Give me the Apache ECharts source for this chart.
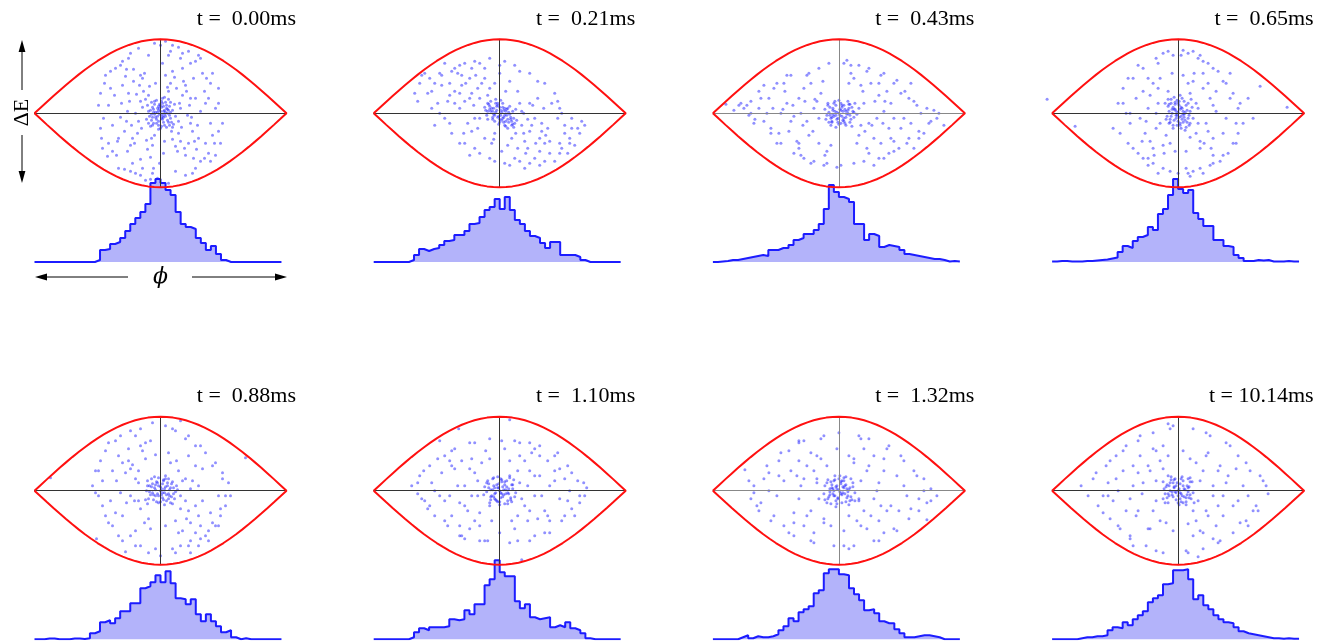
<!DOCTYPE html>
<html><head><meta charset="utf-8">
<script src="https://cdn.jsdelivr.net/npm/echarts@6/dist/echarts.min.js"></script>
<style>html,body{margin:0;padding:0;background:#fff}#c{width:1323px;height:642px}</style>
</head><body><div id="c"></div><script>
// ---------------- DATA ----------------
const titles = ['t =  0.00ms','t =  0.21ms','t =  0.43ms','t =  0.65ms','t =  0.88ms','t =  1.10ms','t =  1.32ms','t = 10.14ms'];

// separatrix (upper half), phase in scaled units, energy in scaled units
const sepPhi = [-126,-119.7,-113.4,-107.1,-100.8,-94.5,-88.2,-81.9,-75.6,-69.3,-63,-56.7,-50.4,-44.1,-37.8,-31.5,-25.2,-18.9,-12.6,-6.3,0,6.3,12.6,18.9,25.2,31.5,37.8,44.1,50.4,56.7,63,69.3,75.6,81.9,88.2,94.5,100.8,107.1,113.4,119.7,126];
const sepDE = [0,5.81,11.57,17.27,22.87,28.32,33.60,38.67,43.50,48.06,52.33,56.27,59.87,63.09,65.93,68.37,70.38,71.96,73.09,73.77,74.0,73.77,73.09,71.96,70.38,68.37,65.93,63.09,59.87,56.27,52.33,48.06,43.50,38.67,33.60,28.32,22.87,17.27,11.57,5.81,0];

// phase histograms, 50 bins across the bucket
const hist1 = [0,0,0,0,0,0,0,0,0,0,0,0,2,12,13,18,20,24,31,38,44,50,58,79,83,79,72,67,50,38,35,33,24,19,12,16,8,2,0,0,0,0,0,0,0,0,0,0,0,0];
const hist2 = [0,0,0,0,0,0,0,2,7,13,11,13,14,17,21,22,27,27,31,38,39,45,52,55,63,53,65,52,42,38,31,26,24,19,14,20,20,7,7,7,5,2,0,0,0,0,0,0,0,0];
const hist3 = [0,0.5,1,2,2,3,4,5,6,7,6,12,12,14,14,17,22,24,28,28,32,38,53,77,70,65,63,60,38,38,22,28,26,15,17,16,15,12,8,7,6,5,4,3,3,2,0.5,1,0.5,0];
const hist4 = [0.5,1,1,0.5,0.5,0.5,1,1,1.5,2,2.5,3.5,4.5,10,16,14,21,25,27,35,32,48,53,67,83,73,69,72,49,43,36,36,22,22,16,15,7,4,1,1,2,1.5,2,0.5,0.5,0.5,1,0.5,0.5,0.5];
const hist5 = [0,0,0.7,0.7,0,0,0,0.7,0.7,0.3,1,6,8,17,19,16,21,28,28,36,36,51,53,57,64,57,68,56,41,40,35,40,25,18,25,18,13,7,9,2,0,1,0,0,0,0,0,0,0,0];
const hist6 = [0,0,0,0,0,0,0,2,7,11,9,12,12,12,13,20,19,20,29,25,35,35,54,60,79,67,63,63,38,31,35,22,20,21,22,12,14,12,17,11,9,6,1,0,0,0,0,0,0,0];
const hist7 = [0,0,0,0,0,2,4,1,3,2,2,3,5,9,13,21,18,27,30,33,46,49,66,70,70,65,64,51,45,39,29,30,26,18,16,16,10,6,2,2,3,4,4,3,2,0,0,0,0,0];
const hist8 = [0,0,0,0,0,1,2,2,3,3,4,9,12,11,17,14,20,24,28,37,41,44,55,56,69,69,70,60,40,44,34,30,24,20,17,16,12,8,6,5,4,3,2,1,1,0.5,1,0.5,0.5,0];

// particle coordinates (phase, energy) read from each frame, flat x,y pairs
const pts1 = [0,2,3,-4,-5,1,6,5,-2,-8,9,-2,-8,6,2,10,-11,-3,12,3,4,-12,-4,13,7,-7,-7,-10,14,9,-13,8,1,-1,-1,5,5,1,-3,-3,10,11,-10,-13,13,-11,-14,-6,8,14,0,-15,-6,-1,3,7,11,-9,-9,11,2,-6,-12,2,6,-14,15,-3,-15,14,4,3,-2,-12,9,7,-7,4,1,12,
20,5,-22,-8,18,-20,-17,22,25,28,-28,-25,30,-10,-31,12,10,30,-8,-32,24,-35,-20,38,35,15,-36,-18,5,38,3,-40,-25,0,27,-2,16,25,-14,-27,38,-25,-38,28,22,18,-19,-15,12,-26,-11,27,33,35,-33,-38,28,-30,-27,32,17,-38,-16,40,40,2,-40,-4,8,22,-6,-22,21,-14,-24,19,32,-18,-30,-32,14,36,-13,-36,36,-36,-35,37,19,10,-18,6,26,22,-23,-20,11,-18,-12,18,
45,10,-48,-12,52,-22,-50,25,42,40,-44,-42,55,5,-57,-5,48,-40,-45,45,20,55,-18,-55,10,62,-8,-60,30,50,-28,-50,0,68,5,72,-3,-65,15,-58,-12,58,40,-48,-38,52,58,25,-60,20,62,-10,-62,8,35,-55,-30,60,25,-62,-22,65,50,30,-52,-30,45,-30,-43,-28,18,66,-15,-67,60,-30,-55,38,38,58,-36,-56,8,-70,-6,70,28,62,-25,-60,55,-42,-58,-35,48,15,-46,18,2,50,-1,-50,33,-45,-34,44,44,22,-42,-25,
1,6,-4,-6,7,0,-9,-1,3,-9,-1,9,10,-5,-6,9,5,-3,-3,1,12,-14,-12,-10,8,3,-8,-4,2,15,-2,3,
18,-8,-20,12,23,32,-26,-30,15,-33,-18,35,29,8,-29,-12,7,26,-9,-25,34,-28,-32,20,20,-28,-21,28,30,15,-34,-8,12,42,-10,-44,25,-42,-27,44,37,-12,-39,10,4,-28,-5,30,22,45,-20,-46,31,-4,-33,2,
50,-10,-52,8,46,35,-48,-38,40,55,-42,-55,22,60,-20,-62,12,68,-10,-66,54,-30,-56,30,58,10,-60,-15,44,-45,-40,48,32,-60,-30,-58,35,52,-32,55,50,-48,-50,42,58,-18,-59,-25,8,58,-7,-55,52,40,-53,-43,
1,-5,-2,7,4,-1,-5,-4,6,8,-7,1,2,-3,-1,-1,8,-9,-3,5,5,11,-9,-7,0,8,3,2,-4,-10,7,4,-6,12,10,1,-10,3,1,-13,9,-12,-8,-12,4,16,-2,-16];
const pts2 = [2,1,-3,3,5,-2,-6,-1,8,-6,0,6,-8,5,11,-4,4,-9,-2,-4,13,2,-11,9,7,4,-5,-8,15,-10,1,-2,-13,-2,10,7,-9,12,6,-13,3,10,-15,6,12,-12,-4,14,9,1,-1,-11,14,-5,-7,2,16,4,-12,-6,0,-6,5,5,
-20,15,22,-12,-28,20,30,-18,-18,30,25,-28,-35,12,35,-5,-25,-5,20,10,-10,25,12,-25,-38,28,40,-25,-30,35,28,-35,-5,30,8,-32,18,22,-22,-15,-40,5,42,-10,-15,-25,16,-20,33,8,-32,-10,-24,38,26,-40,-45,22,45,-30,0,40,2,-38,38,15,-8,-30,-36,-20,24,0,
-60,40,-75,40,-80,30,-55,50,-68,22,-50,30,-70,35,-45,45,-35,50,-20,50,-10,55,5,52,15,48,30,40,45,30,55,20,60,5,-85,20,-62,10,-55,-5,-48,-20,-40,-30,-25,-35,-10,-45,5,-50,20,-48,35,-45,50,-40,60,-30,70,-25,78,-15,82,-8,75,-32,65,-12,55,-48,40,-52,68,-40,48,-15,58,12,-65,-12,-30,-42,-58,28,-42,40,-28,45,10,-52,25,-55,72,-5,80,-20,-78,38,-52,12,62,-35,44,5,
4,3,-2,8,6,-8,-7,-4,10,-1,-10,4,3,-5,-4,10,12,-8,-12,2,1,13,8,-15,
-22,25,24,-20,-30,15,32,-12,-15,35,18,-35,-40,20,42,-18,-34,30,36,-30,-12,18,14,-14,-26,8,28,-6,-20,-5,22,2,-5,-20,6,22,-45,10,46,-22,-50,18,50,-28,10,32,-6,-26,30,10,-28,-18,
-65,30,-58,38,-72,20,-48,42,-40,48,-25,52,0,48,20,42,38,32,52,10,65,-20,72,-15,60,-40,45,-48,30,-50,15,-45,-5,-48,-20,-40,-35,-30,-50,-10,-60,0,70,-30,85,-12,58,-5,-68,5,-82,12,62,0,-15,45,40,-38,-38,38,
1,3,-1,-3,4,-4,-4,1,7,-2,-6,5,2,-7,-3,7,9,-9,-9,2,6,2,-2,10,11,-6,-7,-6,3,6,-5,-2,13,-11,-10,7,0,-9,8,5,-12,10,5,-12,-14,3,17,-7];
const pts3 = [0,0,3,-3,-4,2,6,4,-2,-6,8,-1,-7,-4,5,8,10,5,-9,6,2,-10,12,-6,-5,10,14,2,-12,-2,7,-12,-3,-14,9,12,-10,-9,15,-4,1,4,-6,-1,4,-7,11,9,-14,4,16,10,-8,-12,13,-13,0,13,18,-1,
25,10,-25,5,30,-10,-32,-8,20,-22,-18,20,40,18,-40,15,35,-25,-30,-22,22,28,-20,-30,45,2,-45,-3,28,-35,-28,30,10,30,-8,-32,38,-5,-38,0,50,-15,-52,10,15,35,-12,-38,32,30,-35,25,48,22,-50,-18,26,-18,-22,12,42,-30,-42,-28,
-113,9,-100,8,-88,12,-80,5,-70,15,-90,-2,-75,-8,-65,25,-60,-20,-55,30,-58,0,-68,-15,-48,38,-45,-40,-35,-45,-30,40,-20,45,-28,-50,-15,-52,-2,-54,5,50,8,53,20,48,30,45,45,40,58,33,62,20,70,15,78,8,88,5,95,3,105,-12,90,-10,80,-18,70,-25,65,-5,60,-35,50,-40,40,-45,25,-48,15,-50,-80,22,-95,5,72,30,55,-28,-62,-30,-40,-35,85,-20,100,0,-105,3,75,-35,35,-52,-10,50,52,10,-72,0,-85,-10,
2,3,-3,-2,5,-5,-6,5,9,0,-9,-2,3,8,-1,-9,11,-9,-11,8,7,2,-7,-8,
20,5,-20,-5,33,-12,-34,12,24,22,-26,-18,44,-10,-46,8,36,12,-36,-12,18,-30,-16,32,55,-5,-56,4,30,-40,-32,38,40,30,-40,-30,12,40,-14,-42,52,-25,-54,22,22,-12,-24,14,46,12,-48,-8,
-78,15,-92,8,-84,-6,-68,-20,-62,30,-52,38,-38,-42,-25,-48,-12,-50,2,-52,12,48,28,42,42,38,55,30,66,22,75,12,82,0,92,-8,80,-25,68,-30,55,-38,45,-45,-75,28,-88,0,-98,10,62,-15,72,-10,-66,5,98,-5,-58,-30,
1,-2,-2,1,4,2,-5,-3,7,-4,-6,3,3,6,-1,-5,9,3,-8,-5,5,-8,-3,8,11,-2,-10,1,2,10,6,-10,-7,-9,13,6,-13,-6,0,-11,15,1,-4,12,10,9,-11,10];
const pts4 = [0,1,3,-3,-4,4,5,2,-2,-5,7,-7,-6,0,1,8,9,3,-8,-6,2,-10,-3,11,11,-2,-10,7,6,12,-5,-12,12,-10,4,5,-1,-2,8,-14,-11,-3,14,6,-7,14,0,-8,10,10,-13,10,3,-15,15,-5,-9,-10,6,-4,-4,16,13,14,
20,5,-20,10,18,-20,-22,-15,25,25,-25,30,28,-10,-30,5,10,30,-8,-30,22,-35,-18,35,32,15,-33,-20,5,38,-3,-38,16,40,-14,-40,35,-25,-35,22,26,-30,-28,-28,38,2,-38,-5,12,-24,-10,22,30,30,-25,-35,
-131,14,-103,-13,82,27,109,6,-60,10,-65,-15,-55,25,-50,-30,-45,35,-40,-40,-35,45,-30,-45,-20,50,-15,-55,-5,58,0,-60,5,63,15,-58,20,55,30,50,40,42,48,30,55,20,60,5,65,-10,70,15,75,-5,58,-30,50,-40,42,-48,32,-52,25,-60,8,-55,-10,62,-25,-50,10,60,22,58,35,-42,-48,-10,-42,15,45,-20,52,40,60,-20,-52,0,-20,-60,12,-63,
2,4,-2,-2,4,-6,-5,6,7,1,-7,-3,1,12,-1,-12,9,-9,-9,9,5,-1,-3,4,
18,10,-18,-10,22,-28,-20,25,30,-18,-28,18,15,32,-15,-32,35,8,-32,-8,8,-38,-6,40,25,40,-24,-42,33,-35,-30,35,20,-10,-22,0,12,20,-12,-22,38,22,-36,-28,
-55,10,-58,-20,-50,35,-45,-35,-40,48,-30,-52,-22,55,-8,-58,3,58,10,-60,25,52,35,45,45,32,52,15,58,-10,55,-30,45,-42,35,-50,22,-55,-15,60,15,62,-35,-45,62,10,48,-5,-48,0,
1,-4,-2,2,3,6,-4,-7,6,-1,-6,4,2,-12,-3,9,8,8,-8,-9,5,-9,-1,13,10,-5,-9,2,4,15,-5,-15,12,2,-12,-6,0,10,7,-17,-7,10,2,18,11,-12,-10,14];
const pts5 = [0,0,4,2,-3,-3,6,-4,-6,3,2,7,9,1,-8,-2,3,-9,-4,9,11,-6,-11,5,7,8,-7,-9,13,3,-12,-8,1,-4,5,12,-2,13,10,-12,-14,0,15,-1,8,-3,-5,6,12,9,-9,12,4,-14,-13,-13,16,5,0,4,
20,-5,-22,8,18,20,-20,-18,28,-20,-30,22,25,12,-26,-10,35,-15,-35,18,10,28,-12,-28,30,-32,-32,30,22,-40,-18,40,38,5,-40,-2,15,-30,-15,32,35,25,-38,-25,25,-10,-25,12,40,-35,-42,35,5,-35,-5,36,30,2,-30,-5,
-110,13,85,33,-64,-48,-35,-61,-45,50,-55,40,-60,30,-65,20,-58,10,-50,-10,-62,-5,-55,-25,-48,-35,-40,55,-30,60,-20,62,-10,50,-8,68,5,65,12,-58,20,-55,30,-50,40,-48,48,-40,55,-35,60,-25,65,-15,70,-5,68,8,62,18,52,25,45,38,35,45,25,52,15,60,38,-55,50,-22,58,-5,-20,-55,-5,-58,-30,-45,-15,48,42,22,-68,5,-45,-22,30,-62,20,70,
2,-2,-2,5,5,4,-5,-5,8,-8,-8,7,10,3,-10,-4,3,11,-2,-12,13,-3,-13,10,
22,10,-22,-10,26,-28,-28,26,16,30,-16,-32,32,10,-34,-12,20,-18,-22,20,38,-25,-38,28,8,38,-10,-38,28,35,-25,-40,42,-10,-44,10,18,-42,-20,45,35,-42,-32,42,
-52,48,-62,20,-58,-15,-52,-32,-38,-50,-25,-55,-12,-62,0,-65,15,-62,28,-55,45,-45,52,-32,60,-18,65,-5,62,12,55,28,40,45,28,55,12,62,-25,55,-48,20,58,-35,-65,-2,48,-50,-42,-45,
1,2,-2,-5,4,-2,-5,1,7,5,-7,-4,2,-7,-3,8,9,-5,-9,4,6,-10,-4,-11,11,7,-11,-1,3,10,14,-8,-13,5,0,-11,8,12,-6,14,12,-13,-15,-9,17,1,5,15];
const pts6 = [0,0,3,4,-4,-2,6,-3,-6,5,1,-7,9,2,-8,-5,2,9,-3,-10,11,-7,-11,7,7,10,-7,12,13,2,-13,-1,5,-13,-2,14,10,13,-10,-12,15,-6,-15,4,4,-4,-1,3,8,-10,-9,1,12,6,0,-14,-5,-8,14,11,
20,8,-22,-5,25,-15,-25,18,30,20,-32,-20,18,-25,-18,28,35,-5,-35,5,10,30,-8,-30,40,15,-40,-12,28,-30,-28,32,45,-20,-45,22,20,35,-20,-35,38,-28,-38,30,50,5,-50,-5,15,-38,-14,40,32,38,-30,-38,5,42,0,-42,
-60,50,-41,62,10,71,22,-69,-88,5,-80,15,-75,-10,-70,25,-65,-25,-60,-5,-55,35,-52,-35,-45,42,-40,-45,-30,48,-20,-50,-10,52,10,-52,20,48,30,-50,40,45,50,-42,58,38,62,-30,68,25,72,-18,78,10,85,-5,87,3,75,-25,65,12,60,-8,55,20,-68,8,-82,-3,-58,18,48,30,-48,-25,35,-45,-35,-48,15,50,-15,-50,80,-12,70,0,-72,-18,
2,-3,-3,6,5,6,-6,-6,8,-2,-9,-9,1,12,-2,-11,12,-11,-12,10,6,1,-5,3,
22,-8,-22,10,30,-20,-30,22,18,20,-20,-22,42,-5,-42,5,25,30,-25,-30,35,15,-35,-15,12,-30,-10,32,48,-25,-48,25,40,35,-40,-35,28,5,-28,-5,55,10,-55,-10,
-82,8,-76,20,-70,-15,-62,32,-55,-30,-48,40,-38,-45,-25,48,-12,-50,2,50,18,-50,30,48,45,-42,55,35,65,-25,72,18,80,-5,84,8,68,-10,60,22,-65,0,-78,-8,50,-30,-50,30,35,42,
1,-2,-2,3,4,1,-5,-3,7,4,-7,1,3,-6,-1,7,9,-3,-9,-6,5,9,-4,-9,11,-9,-11,3,2,11,13,6,-13,8,0,-11,8,-13,-6,13,16,-2,-16,-4,10,15,-10,-15];
const pts7 = [0,1,-3,4,4,-2,-6,-3,6,5,-1,-7,9,-5,-9,2,2,9,-4,11,11,3,-11,-8,7,-11,-8,9,13,-9,-14,5,5,13,-2,-13,14,8,-12,-12,3,-4,-5,0,8,2,-7,6,10,-14,-15,-3,1,15,16,-2,-3,-16,12,12,
22,10,-20,-8,25,-20,-25,20,30,25,-32,-25,18,-30,-18,32,38,0,-38,5,10,35,-8,-35,42,-15,-42,15,28,-38,-28,38,35,35,-35,-35,20,-10,-22,12,45,20,-45,-22,15,28,-15,-28,40,-30,-40,30,5,-40,-2,42,
88,-29,-94,21,-85,5,-78,-12,-70,18,-65,-25,-60,30,-55,-35,-50,40,-45,-45,-35,50,-25,-52,-15,55,0,58,15,-55,30,52,40,-50,50,45,58,-40,62,35,70,-28,75,20,80,-8,85,12,92,2,98,-5,65,5,-75,12,-88,-8,-55,10,52,-15,58,15,-62,-5,10,-58,-5,-55,20,55,45,-42,-40,48,88,-12,-80,-20,
2,-3,-2,5,5,3,-5,-5,9,-1,-9,-4,3,10,-3,-10,11,-10,-11,11,7,6,-6,2,
20,-8,-22,8,28,20,-28,-20,32,-25,-32,25,15,32,-15,-32,40,8,-40,-8,22,-35,-22,35,48,-20,-48,20,35,-8,-35,12,10,-25,-12,25,45,32,-45,-32,25,42,-25,-42,
-90,10,-82,-15,-72,25,-68,-30,-58,38,-50,-42,-40,50,-28,-50,-18,52,5,-55,22,52,35,-50,48,42,55,-38,65,30,72,-18,78,15,85,0,92,-10,68,-5,-70,0,-60,15,60,-20,80,-20,-85,-2,
1,-1,-2,2,4,4,-4,-5,6,-3,-7,3,2,7,-1,-8,8,-7,-9,-1,5,10,-5,10,10,1,-10,-6,3,-12,12,-6,-12,8,0,12,7,14,-8,-13,14,4,-14,-9,16,-10,-4,15];
const pts8 = [0,0,3,-3,-4,3,6,2,-6,-4,2,7,9,-4,-9,5,-2,-9,5,10,11,4,-11,-7,8,-11,-7,11,13,-8,-14,2,1,-14,4,14,14,9,-13,-12,-3,-1,6,-6,-8,0,10,-1,-5,8,12,13,-15,9,16,-12,0,-5,-10,15,
20,-10,-22,10,25,20,-25,-20,30,-25,-30,25,18,28,-18,-30,35,5,-36,-3,10,-33,-10,35,40,-15,-40,18,28,35,-28,-38,42,25,-42,-25,22,-40,-22,40,15,-20,-15,22,38,-35,-38,35,5,40,-5,-40,45,-5,-45,5,
-97,5,-85,12,-80,-15,-72,25,-68,-28,-62,35,-58,-38,-52,45,-48,-45,-40,50,-32,-55,-25,58,-15,-62,-5,65,8,-60,15,62,25,-58,32,55,42,-50,48,48,55,-42,60,35,68,-30,72,20,78,-15,85,10,90,-3,60,-10,65,5,-60,0,-75,-5,50,15,-55,20,20,-66,-10,67,35,-48,-45,-55,70,-35,-70,8,80,-20,-65,-10,
2,-2,-2,5,5,5,-5,-6,8,-7,-8,8,10,3,-10,-3,3,-11,-3,12,12,-4,-12,4,
22,10,-22,-10,28,-20,-28,20,18,-30,-18,30,35,-5,-35,8,12,32,-12,-32,40,20,-40,-20,30,38,-30,-38,45,-25,-45,25,25,-42,-25,42,48,8,-48,-8,15,-45,-15,45,
-90,-5,-82,18,-75,-22,-68,30,-60,-35,-55,40,-48,-48,-38,55,-22,-60,-8,62,10,-62,28,58,40,-52,52,45,62,-32,68,28,75,-20,82,15,88,5,70,-5,-70,-5,-62,12,55,-15,58,22,-52,-20,
1,2,-2,-2,4,-5,-4,4,7,1,-6,-1,2,-8,-1,8,9,5,-9,-5,5,-12,-4,11,11,-7,-11,6,3,12,12,9,-13,-3,0,-12,8,-14,-7,14,15,-2,-15,-8,10,12,-10,-12];

const hists = [hist1,hist2,hist3,hist4,hist5,hist6,hist7,hist8];
const points = [pts1,pts2,pts3,pts4,pts5,pts6,pts7,pts8];

// ---------------- LAYOUT / STYLE ----------------
const PHI_MAX = 126, DE_MAX = 74, HIST_MAX = 90, NBINS = 50;
const colX = [160.5, 499.7, 838.9, 1178.1];
const rowY = [113.3, 490.7];
const baseY = [262, 639.3];
const crossColor = ['#333','#333','#888','#333','#333','#333','#888','#333'];

const grid = [], xAxis = [], yAxis = [], series = [], graphic = [];
const hidden = {show:false};
for (let k = 0; k < 8; k++) {
  const c = k % 4, r = Math.floor(k / 4);
  const cx = colX[c], cy = rowY[r];
  grid.push({left: cx - PHI_MAX, top: cy - DE_MAX, width: 2*PHI_MAX, height: 2*DE_MAX});
  grid.push({left: cx - PHI_MAX, top: baseY[r] - HIST_MAX, width: 2*PHI_MAX, height: HIST_MAX});
  const axLine = {show:true, onZero:true, lineStyle:{color:crossColor[k], width:1}};
  xAxis.push({gridIndex:2*k, type:'value', min:-PHI_MAX, max:PHI_MAX, axisLine:axLine, axisTick:hidden, axisLabel:hidden, splitLine:hidden, z:5});
  yAxis.push({gridIndex:2*k, type:'value', min:-DE_MAX, max:DE_MAX, axisLine:axLine, axisTick:hidden, axisLabel:hidden, splitLine:hidden, z:5});
  xAxis.push({gridIndex:2*k+1, type:'value', min:-PHI_MAX, max:PHI_MAX, show:false});
  yAxis.push({gridIndex:2*k+1, type:'value', min:0, max:HIST_MAX, show:false});

  const binW = 2*PHI_MAX / NBINS;
  series.push({type:'line', xAxisIndex:2*k+1, yAxisIndex:2*k+1, step:'end', symbol:'none',
    data: hists[k].map((h,i)=>[-PHI_MAX + i*binW, h]),
    lineStyle:{color:'#1c1cff', width:2}, areaStyle:{color:'#b3b3fa', opacity:1}, z:1, silent:true});

  const p = points[k], pd = [];
  for (let i = 0; i < p.length; i += 2) pd.push([p[i], p[i+1]]);
  series.push({type:'scatter', xAxisIndex:2*k, yAxisIndex:2*k, data:pd, symbol:'circle', symbolSize:3,
    itemStyle:{color:'rgba(30,30,255,0.62)'}, clip:false, z:3, silent:true});

  const sep = sepPhi.map((x,i)=>[x, sepDE[i]]);
  for (let i = sepPhi.length - 1; i >= 0; i--) sep.push([sepPhi[i], -sepDE[i]]);
  series.push({type:'line', xAxisIndex:2*k, yAxisIndex:2*k, data:sep, symbol:'none',
    lineStyle:{color:'#ff1010', width:2}, z:6, clip:false, silent:true});

  graphic.push({type:'text', x: cx + 135.5, y: cy - 94.5, z:10,
    style:{text:titles[k], font:'22px "Liberation Serif", serif', fill:'#000',
      align:'right', verticalAlign:'middle', textAlign:'right', textVerticalAlign:'middle'}});
}

// axis annotations on first panel
const ax = 22, ayc = 112.5, hy = 277;
const blk = {fill:'#000'};
graphic.push(
  {type:'line', shape:{x1:ax, y1:90, x2:ax, y2:50}, style:{stroke:'#000', lineWidth:1}},
  {type:'polygon', shape:{points:[[ax,40],[ax-3.4,52],[ax+3.4,52]]}, style:blk},
  {type:'line', shape:{x1:ax, y1:135, x2:ax, y2:172}, style:{stroke:'#000', lineWidth:1}},
  {type:'polygon', shape:{points:[[ax,183],[ax-3.4,171],[ax+3.4,171]]}, style:blk},
  {type:'text', x:ax, y:ayc, rotation:Math.PI/2,
    style:{text:'ΔE', font:'22px "Liberation Serif", serif', fill:'#000', align:'center', verticalAlign:'middle', textAlign:'center', textVerticalAlign:'middle'}},
  {type:'line', shape:{x1:128, y1:hy, x2:46, y2:hy}, style:{stroke:'#000', lineWidth:1}},
  {type:'polygon', shape:{points:[[35,hy],[47,hy-3.4],[47,hy+3.4]]}, style:blk},
  {type:'line', shape:{x1:192, y1:hy, x2:276, y2:hy}, style:{stroke:'#000', lineWidth:1}},
  {type:'polygon', shape:{points:[[287,hy],[275,hy-3.4],[275,hy+3.4]]}, style:blk},
  {type:'text', x:160.5, y:hy, style:{text:'ϕ', font:'italic 22px "DejaVu Serif", serif', fill:'#000', align:'center', verticalAlign:'middle', textAlign:'center', textVerticalAlign:'middle'}}
);

const chart = echarts.init(document.getElementById('c'), null, {renderer:'canvas'});
chart.setOption({animation:false, backgroundColor:'#fff', grid, xAxis, yAxis, series, graphic});
</script></body></html>
